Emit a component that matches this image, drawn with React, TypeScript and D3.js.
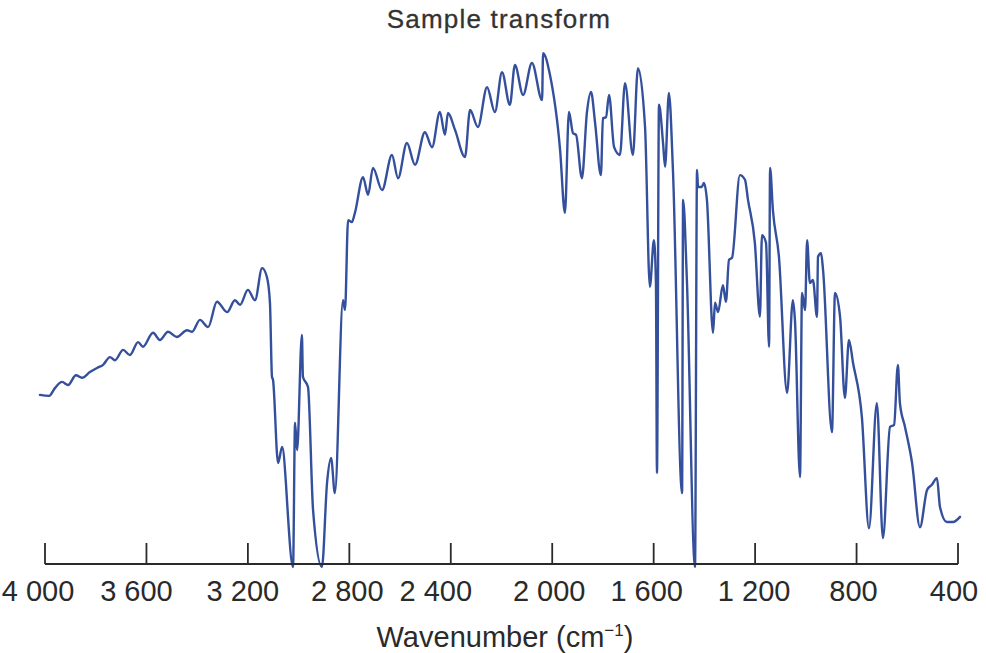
import React from "react";
import * as d3 from "d3";

const wavenumbers: number[] = [
  4020, 3984, 3961, 3933, 3909, 3878, 3854, 3823, 3795, 3771, 3744, 3724, 3692, 3665, 3633, 3614,
  3574, 3547, 3515, 3480, 3440, 3420, 3389, 3357, 3322, 3282, 3251, 3231, 3200, 3172, 3144, 3125,
  3113, 3105, 3101, 3081, 3065, 3050, 3046, 3022, 3014, 3006, 2987, 2983, 2963, 2943, 2908, 2888,
  2872, 2857, 2825, 2817, 2805, 2790, 2778, 2746, 2726, 2707, 2671, 2632, 2608, 2573, 2541, 2502,
  2474, 2443, 2423, 2411, 2383, 2344, 2324, 2293, 2257, 2226, 2198, 2167, 2147, 2115, 2080, 2040,
  2036, 2009, 1969, 1950, 1934, 1918, 1906, 1883, 1863, 1847, 1831, 1808, 1800, 1788, 1776, 1756,
  1733, 1713, 1682, 1662, 1634, 1615, 1599, 1591, 1587, 1579, 1563, 1555, 1540, 1524, 1488, 1484,
  1469, 1437, 1429, 1425, 1410, 1402, 1390, 1366, 1358, 1346, 1327, 1315, 1303, 1291, 1260, 1240,
  1228, 1201, 1181, 1173, 1157, 1145, 1141, 1130, 1106, 1074, 1051, 1043, 1023, 1015, 1003, 995,
  984, 972, 956, 952, 940, 932, 897, 885, 865, 846, 830, 814, 779, 751, 720, 696,
  668, 652, 637, 629, 609, 581, 550, 522, 503, 483, 471, 444, 420, 392,
];

const transmittance: number[] = [
  33.3, 33.1, 34.6, 35.8, 35.2, 37.1, 36.6, 37.7, 38.5, 39.1, 40.6, 40.0, 42.0, 41.0, 43.5, 42.6,
  45.3, 43.9, 45.5, 44.5, 45.8, 45.5, 47.8, 46.4, 51.3, 49.3, 51.6, 50.7, 53.6, 51.6, 57.8, 56.1,
  51.1, 36.8, 36.2, 20.1, 23.2, 16.2, 13.0, 0.0, 27.9, 22.6, 44.9, 36.8, 34.8, 11.0, 0.0, 16.2,
  21.1, 14.3, 51.6, 49.7, 67.1, 66.7, 68.5, 75.4, 72.0, 77.2, 72.9, 79.7, 75.2, 82.0, 77.8, 84.1,
  81.2, 88.0, 83.6, 87.8, 84.5, 79.3, 88.4, 85.1, 92.8, 88.0, 95.7, 89.4, 97.1, 91.3, 97.5, 90.3,
  99.4, 95.2, 80.7, 68.5, 88.0, 83.9, 83.6, 75.2, 88.0, 91.9, 85.9, 75.8, 86.8, 87.0, 91.3, 81.2,
  79.7, 93.6, 79.7, 96.5, 85.1, 54.2, 63.2, 54.9, 18.2, 89.4, 82.0, 77.4, 91.7, 76.8, 14.3, 71.0,
  55.5, 0.0, 76.8, 73.5, 73.5, 74.3, 71.0, 45.3, 51.1, 49.3, 54.5, 51.3, 59.4, 59.8, 75.8, 74.9,
  71.0, 62.7, 48.4, 64.2, 62.7, 42.6, 77.2, 69.1, 60.0, 33.7, 51.6, 47.8, 17.4, 53.0, 49.7, 63.2,
  54.9, 55.5, 48.4, 60.0, 60.7, 57.4, 26.1, 53.0, 48.4, 32.7, 43.9, 39.5, 29.0, 7.5, 31.7, 5.6,
  27.1, 27.5, 39.1, 31.7, 27.1, 20.1, 7.7, 14.9, 15.9, 17.2, 11.6, 8.7, 8.7, 9.7,
];

const tickValues: number[] = [4000, 3600, 3200, 2800, 2400, 2000, 1600, 1200, 800, 400];
const tickLabels: string[] = ["4 000", "3 600", "3 200", "2 800", "2 400", "2 000", "1 600", "1 200", "800", "400"];

const chartTitle = "Sample transform";
const axisTitle = "Wavenumber (cm";
const axisTitleSup = "−1";

// layout-only nudges of tick labels (as set in the printed figure)
const labelNudge: number[] = [-7, -10, -5, -2, -15, -3, -7, -1, -3, -4];

export default function App() {
  const W = 986;
  const H = 653;
  const x = d3.scaleLinear().domain([4000, 400]).range([45, 958]);
  const y = d3.scaleLinear().domain([0, 100]).range([567, 50]);
  const axisY = 564;

  const pts: [number, number][] = wavenumbers.map((w, i) => [w, transmittance[i]]);
  const line = d3
    .line<[number, number]>()
    .x((d) => x(d[0]))
    .y((d) => y(d[1]))
    .curve(d3.curveMonotoneX);

  const font = "'Liberation Sans', Arial, Helvetica, sans-serif";

  return (
    <svg
      width={W}
      height={H}
      style={{ position: "absolute", left: 0, top: 0, background: "#fff" }}
    >
      <rect x={0} y={0} width={W} height={H} fill="#fff" />
      <text
        x={499}
        y={28}
        textAnchor="middle"
        fontFamily={font}
        fontSize={26}
        letterSpacing={1.2}
        fill="#333"
        stroke="#333"
        strokeWidth={0.3}
      >
        {chartTitle}
      </text>
      <path
        d={line(pts) || ""}
        fill="none"
        stroke="#34509c"
        strokeWidth={2.4}
        strokeLinejoin="round"
        strokeLinecap="round"
      />
      <line x1={x(4000)} x2={x(400)} y1={axisY} y2={axisY} stroke="#2a2a2a" strokeWidth={1.8} />
      {tickValues.map((t, i) => (
        <g key={t}>
          <line x1={x(t)} x2={x(t)} y1={axisY} y2={axisY - 21} stroke="#2a2a2a" strokeWidth={1.8} />
          <text
            x={x(t) + labelNudge[i]}
            y={601}
            textAnchor="middle"
            fontFamily={font}
            fontSize={29}
            fill="#2a2a2a"
          >
            {tickLabels[i]}
          </text>
        </g>
      ))}
      <text x={505} y={647} textAnchor="middle" fontFamily={font} fontSize={29} fill="#2a2a2a">
        {axisTitle}
        <tspan dy={-11} fontSize={17}>{axisTitleSup}</tspan>
        <tspan dy={11}>)</tspan>
      </text>
    </svg>
  );
}
